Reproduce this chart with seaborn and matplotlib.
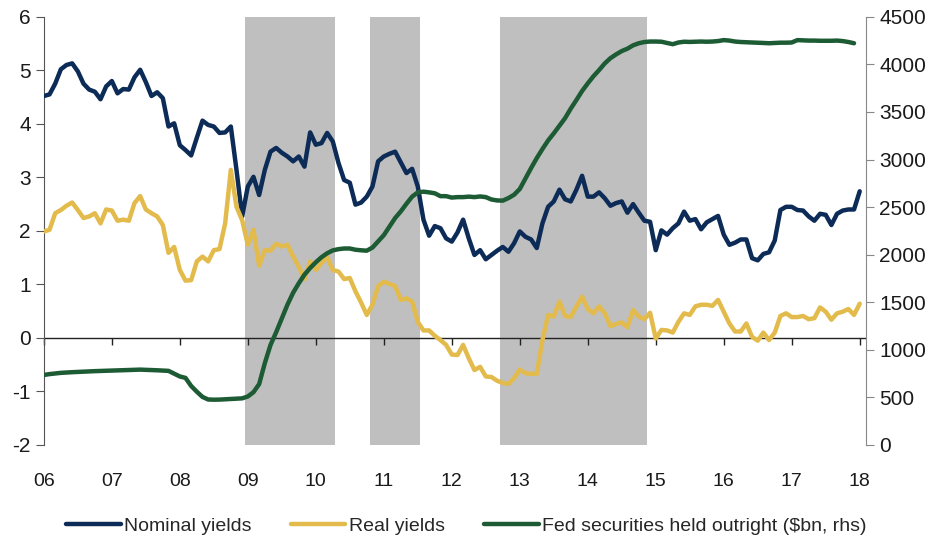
import numpy as np
import pandas as pd
import matplotlib
matplotlib.use("Agg")
import matplotlib.pyplot as plt
import seaborn as sns

# monthly data, Jan 2006 .. Jan 2018
nominal = [4.52, 4.55, 4.75, 5.02, 5.10, 5.13, 4.98, 4.75, 4.64, 4.60, 4.46, 4.70,
           4.80, 4.57, 4.65, 4.64, 4.87, 5.01, 4.78, 4.52, 4.59, 4.48, 3.95, 4.01,
           3.60, 3.51, 3.41, 3.74, 4.06, 3.98, 3.95, 3.83, 3.84, 3.95, 3.14, 2.27,
           2.83, 3.01, 2.67, 3.14, 3.48, 3.55, 3.46, 3.39, 3.30, 3.39, 3.20, 3.84,
           3.61, 3.64, 3.83, 3.67, 3.27, 2.95, 2.90, 2.49, 2.53, 2.64, 2.83, 3.30,
           3.39, 3.44, 3.48, 3.28, 3.08, 3.16, 2.83, 2.21, 1.91, 2.09, 2.05, 1.86,
           1.80, 1.97, 2.21, 1.86, 1.55, 1.64, 1.47, 1.55, 1.63, 1.70, 1.61, 1.77,
           1.99, 1.89, 1.84, 1.68, 2.14, 2.45, 2.55, 2.77, 2.59, 2.55, 2.77, 3.03,
           2.64, 2.64, 2.72, 2.61, 2.47, 2.52, 2.55, 2.34, 2.50, 2.34, 2.19, 2.17,
           1.64, 2.01, 1.93, 2.05, 2.14, 2.36, 2.19, 2.22, 2.03, 2.16, 2.22, 2.28,
           1.93, 1.74, 1.78, 1.84, 1.84, 1.49, 1.45, 1.57, 1.60, 1.82, 2.39, 2.45,
           2.45, 2.39, 2.38, 2.27, 2.19, 2.32, 2.30, 2.11, 2.32, 2.38, 2.40, 2.40,
           2.74]

real = [1.99, 2.02, 2.33, 2.39, 2.47, 2.53, 2.39, 2.24, 2.27, 2.33, 2.14, 2.40,
        2.38, 2.19, 2.21, 2.19, 2.52, 2.65, 2.40, 2.33, 2.27, 2.11, 1.59, 1.70,
        1.27, 1.07, 1.08, 1.43, 1.52, 1.43, 1.64, 1.66, 2.14, 3.14, 2.45, 2.20,
        1.74, 2.02, 1.35, 1.64, 1.63, 1.76, 1.71, 1.74, 1.52, 1.33, 1.10, 1.43,
        1.27, 1.40, 1.51, 1.27, 1.24, 1.10, 1.12, 0.87, 0.66, 0.43, 0.62, 0.97,
        1.05, 1.01, 0.97, 0.71, 0.74, 0.68, 0.30, 0.14, 0.14, 0.04, -0.04, -0.13,
        -0.31, -0.32, -0.13, -0.38, -0.60, -0.54, -0.72, -0.73, -0.80, -0.84, -0.86, -0.75,
        -0.59, -0.66, -0.67, -0.67, -0.04, 0.43, 0.40, 0.68, 0.41, 0.39, 0.59, 0.77,
        0.54, 0.46, 0.59, 0.46, 0.22, 0.26, 0.29, 0.20, 0.52, 0.40, 0.35, 0.47,
        -0.01, 0.15, 0.14, 0.10, 0.30, 0.46, 0.43, 0.59, 0.62, 0.62, 0.60, 0.71,
        0.49, 0.27, 0.12, 0.12, 0.27, 0.02, -0.05, 0.10, -0.04, 0.10, 0.41, 0.46,
        0.39, 0.39, 0.41, 0.35, 0.37, 0.57, 0.49, 0.34, 0.46, 0.49, 0.54, 0.43,
        0.64]

# Fed securities held outright, $bn (Jan 2006 .. Dec 2017)
fed = [736, 745, 752, 758, 762, 765, 768, 771, 773, 776, 778, 780,
       782, 784, 786, 788, 790, 792, 790, 788, 785, 782, 779, 750,
       720, 705, 620, 560, 505, 478, 476, 477, 480, 483, 486, 490,
       510, 555, 640, 860, 1050, 1185, 1330, 1475, 1600, 1700, 1790, 1860,
       1920, 1973, 2015, 2045, 2058, 2065, 2065, 2052, 2046, 2042, 2075, 2140,
       2205, 2295, 2385, 2455, 2535, 2610, 2655, 2662, 2655, 2645, 2615, 2615,
       2600, 2605, 2605, 2610, 2605, 2612, 2605, 2580, 2570, 2568, 2595, 2630,
       2690, 2800, 2910, 3015, 3110, 3200, 3275, 3355, 3435, 3535, 3626, 3720,
       3800, 3875, 3940, 4010, 4065, 4105, 4140, 4165, 4200, 4222, 4235, 4240,
       4240, 4238, 4225, 4212, 4230, 4238, 4236, 4238, 4240, 4238, 4240, 4245,
       4255, 4250, 4240, 4235, 4232, 4230, 4228, 4225, 4222, 4225, 4228, 4228,
       4230, 4255, 4252, 4250, 4250, 4248, 4248, 4248, 4250, 4245, 4235, 4222]

# QE periods (shaded), decimal years
qe_start = [2008.96, 2010.79, 2012.71]
qe_end = [2010.28, 2011.53, 2014.87]

years = list(range(2006, 2019))
year_labels = [f"{y % 100:02d}" for y in years]

dates = 2006 + np.arange(len(nominal)) / 12
df = pd.DataFrame({"date": dates, "Nominal yields": nominal, "Real yields": real})
df_fed = pd.DataFrame({"date": dates[:len(fed)], "fed": fed})

sns.set_style("white")
plt.rcParams["font.family"] = ["Liberation Sans", "DejaVu Sans"]
plt.rcParams["axes.unicode_minus"] = False

navy = "#0c2b57"
gold = "#e3bb4c"
green = "#1d5b34"

fig, ax = plt.subplots(figsize=(9.33, 5.42), dpi=100)
fig.subplots_adjust(left=0.047, right=0.928, top=0.969, bottom=0.179)
ax2 = ax.twinx()

for s, e in zip(qe_start, qe_end):
    ax.axvspan(s, e, color="#bfbfbf", lw=0, zorder=0)

ax.axhline(0, color="#222222", lw=1.0, zorder=1)

sns.lineplot(data=df, x="date", y="Nominal yields", ax=ax, color=navy, lw=3.2,
             label="Nominal yields", zorder=3)
sns.lineplot(data=df, x="date", y="Real yields", ax=ax, color=gold, lw=3.2,
             label="Real yields", zorder=3)
sns.lineplot(data=df_fed, x="date", y="fed", ax=ax2, color=green, lw=3.2,
             label="Fed securities held outright ($bn, rhs)")

ax.set_xlim(2006, 2018.09)
ax.set_ylim(-2, 6)
ax.set_yticks(range(-2, 7))
ax2.set_ylim(0, 4500)
ax2.set_yticks(range(0, 4501, 500))
ax.set_xticks(years)
ax.set_xticklabels(year_labels)
ax.set_xlabel("")
ax.set_ylabel("")
ax2.set_ylabel("")

# tick marks on the zero line
sec = ax.secondary_xaxis(0.25)
sec.set_xticks(years)
sec.tick_params(axis="x", length=5, width=1, color="#222222", labelbottom=False)
sec.spines["bottom"].set_visible(False)

for a in (ax, ax2):
    a.spines["top"].set_visible(False)
    a.spines["bottom"].set_visible(False)
ax.spines["right"].set_visible(False)
ax.spines["left"].set_color("#555555")
ax2.spines["left"].set_visible(False)
ax2.spines["right"].set_color("#888888")

ax.tick_params(axis="x", length=0, pad=20, labelsize=14, labelcolor="#1a1a1a")
ax.tick_params(axis="y", left=True, length=6, color="#555555", labelsize=15, labelcolor="#1a1a1a")
ax2.tick_params(axis="y", right=True, length=6, color="#888888", labelsize=15, labelcolor="#1a1a1a")

h1, l1 = ax.get_legend_handles_labels()
h2, l2 = ax2.get_legend_handles_labels()
ax.get_legend().remove()
ax2.get_legend().remove()
fig.legend(h1 + h2, l1 + l2, loc="center", bbox_to_anchor=(0.5, 0.03), ncol=3,
           frameon=False, fontsize=14, handlelength=2.8, handletextpad=0.2,
           columnspacing=2.0)

fig.savefig("out.png", dpi=100)
